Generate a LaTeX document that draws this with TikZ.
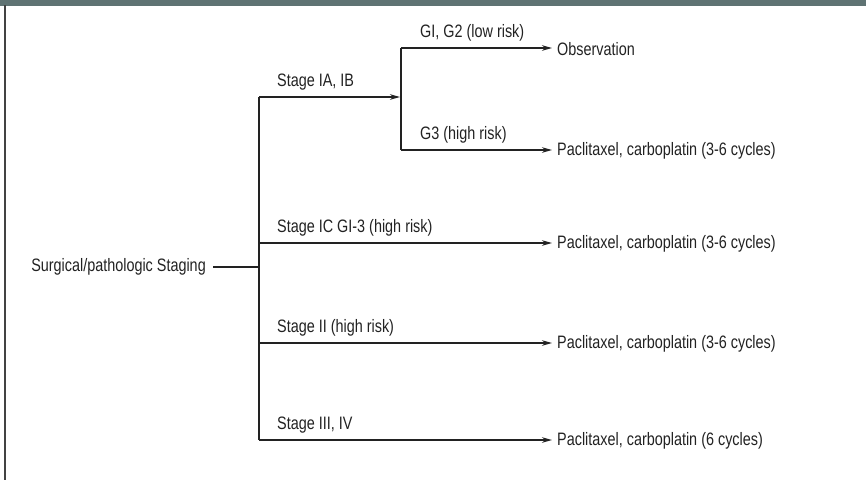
\documentclass[tikz,border=0pt]{standalone}
\usepackage{fontspec}
\setmainfont{Liberation Sans}[FakeStretch=0.8]
\usetikzlibrary{arrows.meta}
\definecolor{hdr}{HTML}{5F7373}
\definecolor{ink}{HTML}{222222}
\begin{document}
\begin{tikzpicture}[x=1pt,y=-1pt,
  txt/.style={inner sep=0pt,font=\fontsize{18}{21}\selectfont,text=ink},
  lbl/.style={txt,anchor=south west},
  res/.style={txt,anchor=west},
  conn/.style={draw=ink,line width=1.5pt},
  arr/.style={conn,-{Stealth[length=10pt,width=5.5pt]},shorten >=5pt}]
\useasboundingbox (0,0) rectangle (866,480);
\fill[hdr] (0,0) rectangle (866,5.5);
\draw[line width=2pt,draw=ink!85] (4.5,5) -- (4.5,480);
% root
\node[txt,anchor=east] (root) at (206,267) {Surgical/pathologic Staging};
\coordinate (j0) at (259,267);
\coordinate (t0) at (259,97);
\coordinate (b0) at (259,440);
\draw[conn] (root.east) ++(7,0) coordinate (rs) -- (j0);
\draw[conn] (t0) -- (b0);
% stage IA IB
\coordinate (j1) at (401,97);
\coordinate (t1) at (401,48);
\coordinate (b1) at (401,150);
\draw[arr,shorten >=1pt] (t0) -- (j1);
\node[lbl] (l1) at (277,90) {Stage IA, IB};
\draw[conn] (t1) -- (b1);
% outcomes
\node[res] (o1) at (557,49) {Observation};
\node[res] (o2) at (557,151) {Paclitaxel, carboplatin (3-6 cycles)};
\node[res] (o3) at (557,244) {Paclitaxel, carboplatin (3-6 cycles)};
\node[res] (o4) at (557,344) {Paclitaxel, carboplatin (3-6 cycles)};
\node[res] (o5) at (557,441) {Paclitaxel, carboplatin (6 cycles)};
\draw[arr] (t1) -- (o1.west |- t1);
\draw[arr] (b1) -- (o2.west |- b1);
\draw[arr] (259,243) coordinate (s3) -- (o3.west |- s3);
\draw[arr] (259,343) coordinate (s4) -- (o4.west |- s4);
\draw[arr] (b0) -- (o5.west |- b0);
\node[lbl] (g12) at (420,41) {GI, G2 (low risk)};
\node[lbl] (g3) at (420,143) {G3 (high risk)};
\node[lbl] (l3) at (277,236) {Stage IC GI-3 (high risk)};
\node[lbl] (l4) at (277,336) {Stage II (high risk)};
\node[lbl] (l5) at (277,433) {Stage III, IV};
\end{tikzpicture}
\end{document}
